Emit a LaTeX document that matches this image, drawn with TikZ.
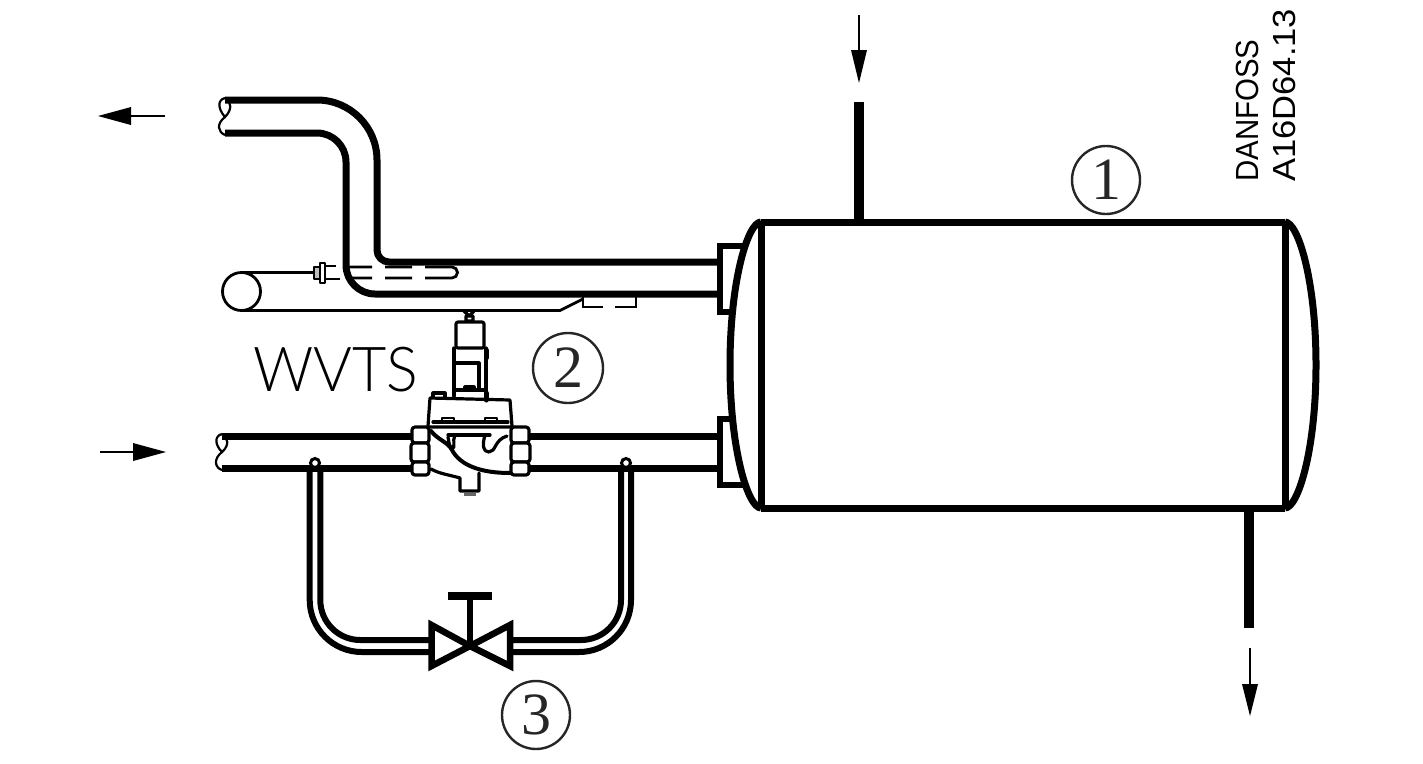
\documentclass[tikz,border=0pt]{standalone}
\usepackage{fontspec}
\setmainfont{Liberation Sans}
\newfontfamily\serifnum{Liberation Serif}
\newfontfamily\lightlabel{Lato Light}
\begin{document}
\begin{tikzpicture}[x=1pt,y=-1pt,
  pipe/.style={line width=7pt,line join=round},
  bypass/.style={line width=6pt,line join=round},
  wall/.style={line width=6pt,line join=miter},
  stub/.style={line width=10pt},
  thin line/.style={line width=2.8pt},
  fineline/.style={line width=2.2pt,line join=round},
  valveline/.style={line width=3.2pt,line join=round,line cap=round},
  flow/.style={line width=2.2pt},
  tip/.style={fill=black,draw=none},
  marker/.style={circle,draw=black!85,line width=2.4pt,inner sep=0pt,font=\serifnum\fontsize{60}{60}\selectfont,text=black!85}]
\useasboundingbox (0,0) rectangle (1423,763);
% tank
\draw[pipe] (761,222) -- (1285,222) (761,508) -- (1285,508);
\draw[pipe] (761,222) -- (761,508) (1285,222) -- (1285,508);
\draw[pipe] (761,222) .. controls (748,222) and (730,280) .. (730,365) .. controls (730,450) and (748,508) .. (761,508);
\draw[pipe] (1285,222) .. controls (1298,222) and (1316,280) .. (1316,365) .. controls (1316,450) and (1298,508) .. (1285,508);
% flanges
\draw[wall] (745,245.5) -- (719.5,245.5) -- (719.5,312) -- (731,312);
\draw[wall] (732,418.5) -- (719.5,418.5) -- (719.5,485) -- (746,485);
% stubs
\draw[stub] (859,102) -- (859,220);
\draw[stub] (1249,510) -- (1249,628);
% outlet pipe
\draw[pipe] (225,100) -- (317,100) arc[start angle=-90,end angle=0,radius=60] -- (377,250) arc[start angle=180,end angle=90,radius=12] -- (717,262);
\draw[pipe] (225,133) -- (317,133) arc[start angle=-90,end angle=0,radius=29] -- (346,265) arc[start angle=180,end angle=90,radius=29] -- (717,294);
\draw[fineline] (225,98) .. controls (217,100) and (218,109) .. (225,117) .. controls (216,124) and (218,132) .. (225,135);
\draw[fineline] (225,98) .. controls (232,102) and (232,110) .. (225,117);
% inlet pipe
\draw[pipe] (222,436) -- (412,436) (528,436) -- (717,436);
\draw[pipe] (222,468) -- (412,468) (528,468) -- (717,468);
\draw[fineline] (222,434) .. controls (214,436) and (215,445) .. (222,452) .. controls (213,459) and (215,468) .. (222,470);
\draw[fineline] (222,434) .. controls (229,438) and (229,446) .. (222,452);
% bulb and capillary
\draw[thin line] (241.5,291.5) circle[radius=19];
\draw[thin line] (241,272.5) -- (315,272.5);
\draw[thin line] (241,310.5) -- (560,310.5) -- (583,299);
\draw[thin line] (583,297) -- (583,307) -- (603,307);
\draw[thin line] (615,307) -- (636,307) -- (636,297);
% sensor
\draw[fineline,fill=black!25] (314,267) rectangle (320,279);
\draw[fineline,fill=white] (320,263) rectangle (325,283);
\draw[fineline] (325,266) -- (336,266) (325,279) -- (340,279);
\draw[thin line] (346,267) -- (372,267) (385,267) -- (412,267) (425,267) -- (452,267) arc[start angle=-90,end angle=90,radius=5.5] (425,278) -- (452,278) (385,278) -- (412,278) (347,278) -- (372,278);
% bypass
\draw[bypass] (309.7,465) -- (309.7,600) arc[start angle=180,end angle=90,radius=52] -- (430,652);
\draw[bypass] (320.3,465) -- (320.3,600) arc[start angle=180,end angle=90,radius=40] -- (430,640);
\draw[bypass] (631,465) -- (631,600) arc[start angle=0,end angle=90,radius=52] -- (512,652);
\draw[bypass] (621,465) -- (621,600) arc[start angle=0,end angle=90,radius=40] -- (512,640);
\draw[fill=white,line width=3pt] (315,463) circle[radius=4.5];
\draw[fill=white,line width=3pt] (626,463) circle[radius=4.5];
% hand valve
\draw[line width=6.5pt,fill=white,line join=miter] (431.5,625) -- (470,646) -- (431.5,666) -- cycle;
\draw[line width=6.5pt,fill=white,line join=miter] (510,625) -- (470,646) -- (510,666) -- cycle;
\draw[line width=6.5pt] (470,646) -- (470,596);
\draw[line width=7.5pt] (448,596) -- (492,596);
% solenoid valve
\begin{scope}
\draw[valveline] (464,311) -- (469,316) -- (474,311) (466,316) rectangle (473,321);
\draw[valveline,rounded corners=2pt] (456,348) -- (456,322) -- (484,322) -- (484,348) -- cycle;
\draw[valveline] (454,348) -- (454,396) (486,348) -- (486,396);
\draw[line width=5pt,line cap=round] (486,350) -- (486,358);
\draw[valveline] (454,363) -- (479,363) -- (479,388) (455,390) -- (486,390) (465,390) -- (465,387) -- (474,387) -- (474,390);
\draw[line width=5pt,line cap=round] (486,393) -- (486,400);
% bonnet
\draw[valveline,fill=white] (433,397) -- (433,393) -- (445,393) -- (445,397);
\draw[valveline] (430,398) -- (510,400) (430,398) -- (428,426) (510,400) -- (512,426) (430,427) -- (510,427);
\draw[valveline] (433,422) -- (508,422);
\draw[fineline] (442,422) -- (442,418) -- (454,418) -- (454,422) (485,422) -- (485,418) -- (497,418) -- (497,422);
% nuts
\draw[valveline,fill=white,rounded corners=3pt] (412,427) rectangle (429,443);
\draw[valveline,fill=white,rounded corners=3pt] (411,443) rectangle (429,462);
\draw[valveline,fill=white,rounded corners=3pt] (412,462) rectangle (429,475);
\draw[valveline,fill=white,rounded corners=3pt] (511,427) rectangle (529,443);
\draw[valveline,fill=white,rounded corners=3pt] (511,443) rectangle (530,462);
\draw[valveline,fill=white,rounded corners=3pt] (511,462) rectangle (529,475);
% body
\draw[line width=4pt,line cap=round] (431,431) .. controls (438,440) and (448,442) .. (452,450) .. controls (460,465) and (480,473) .. (510,473);
\draw[valveline] (448,435) -- (490,435);
\draw[valveline] (455,435) .. controls (452,440) and (456,450) .. (452,448) .. controls (449,447) and (449,442) .. (448,437);
\draw[valveline] (485,435) .. controls (482,445) and (483,452) .. (489,452) .. controls (496,452) and (494,440) .. (507,436);
\draw[valveline] (431,469) .. controls (440,474) and (450,475) .. (460,478) -- (460,491) -- (479,491) -- (479,473);
\draw[line width=3pt,black!60] (464,494) -- (476,494);
\end{scope}
% flow arrows
\coordinate (a1) at (165,116); \coordinate (a1t) at (131,116);
\draw[flow] (a1) -- (a1t); \fill[tip] (98,116) -- (131,107) -- (131,125) -- cycle;
\coordinate (a2) at (100,452); \coordinate (a2t) at (134,452);
\draw[flow] (a2) -- (a2t); \fill[tip] (166,452) -- (133,443) -- (133,461) -- cycle;
\coordinate (a3) at (859,15); \coordinate (a3t) at (859,50);
\draw[flow] (a3) -- (a3t); \fill[tip] (859,83) -- (851,50) -- (867,50) -- cycle;
\coordinate (a4) at (1250,648); \coordinate (a4t) at (1250,684);
\draw[flow] (a4) -- (a4t); \fill[tip] (1250,716) -- (1242,684) -- (1258,684) -- cycle;
% labels
\node[marker,minimum size=68pt] (m1) at (1106,180) {1};
\node[marker,minimum size=70pt] (m2) at (568,368) {2};
\node[marker,minimum size=68pt] (m3) at (536,715) {3};
\node[anchor=west,inner sep=0pt,xscale=.955] (wvts) at (253,369.5) {\lightlabel\fontsize{62}{62}\selectfont WVTS};
\node[rotate=90,anchor=west,inner sep=0pt,xscale=.92] (d1) at (1247,182) {\fontsize{32}{32}\selectfont DANFOSS};
\node[rotate=90,anchor=west,inner sep=0pt,xscale=1.08] (d2) at (1284,182) {\fontsize{32}{32}\selectfont A16D64.13};
\end{tikzpicture}
\end{document}
